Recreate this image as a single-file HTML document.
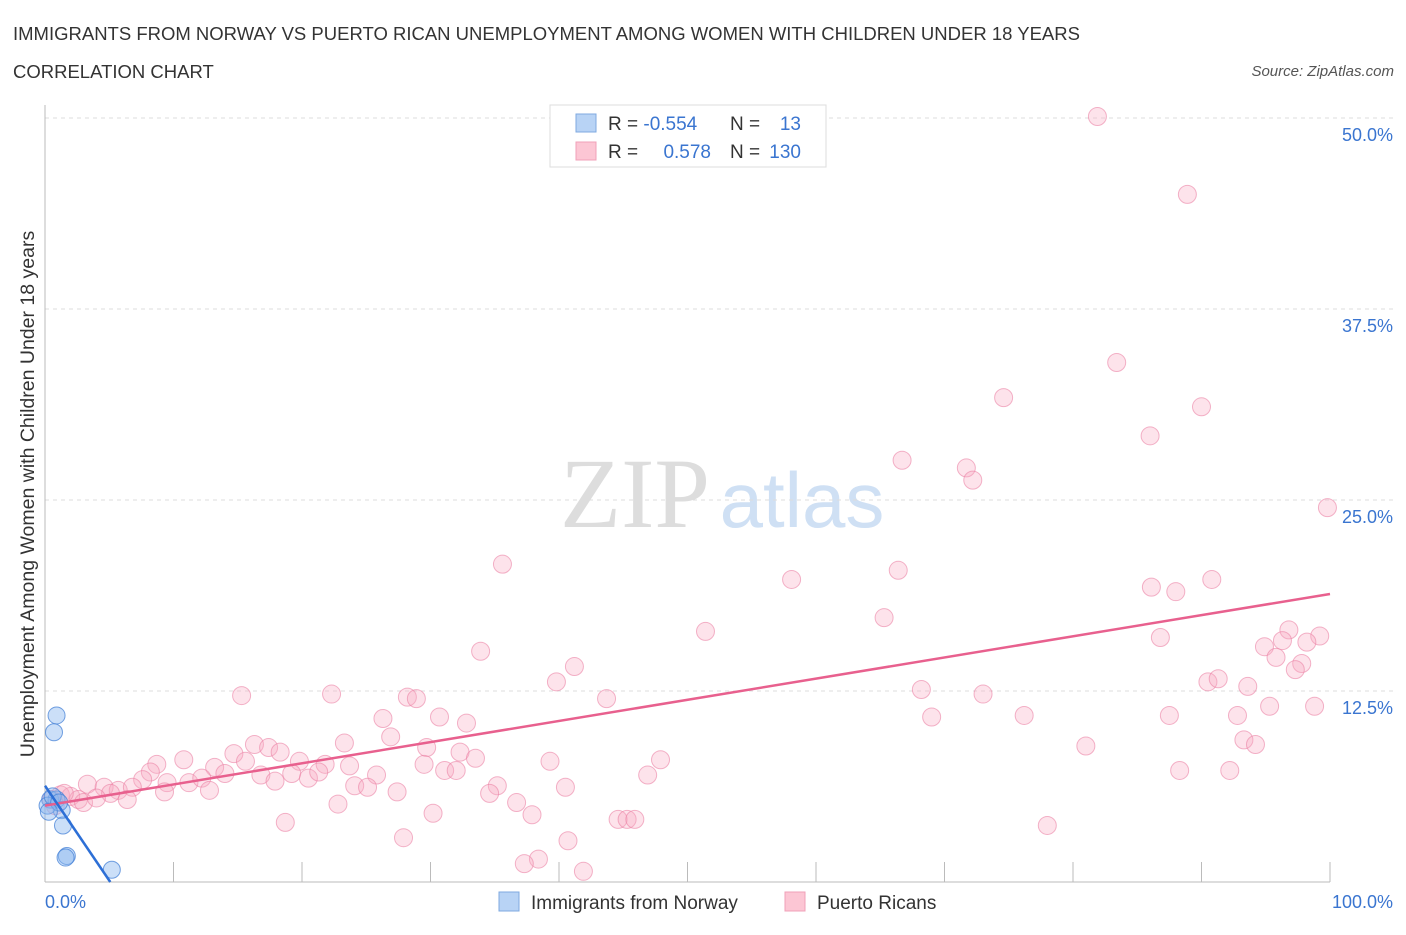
<!DOCTYPE html>
<html><head><meta charset="utf-8"><style>
body{margin:0;background:#fff;font-family:"Liberation Sans",sans-serif;}
svg text{font-family:"Liberation Sans",sans-serif;}
svg text.serif{font-family:"Liberation Serif",serif;}
</style></head><body>
<svg id="c" width="1406" height="930">
<text x="13" y="40" font-size="18.5" fill="#333">IMMIGRANTS FROM NORWAY VS PUERTO RICAN UNEMPLOYMENT AMONG WOMEN WITH CHILDREN UNDER 18 YEARS</text>
<text x="13" y="78" font-size="18.5" fill="#333">CORRELATION CHART</text>
<text x="1394" y="76" font-size="15" fill="#555" text-anchor="end" font-style="italic">Source: ZipAtlas.com</text>
<text class="serif" x="635" y="527" font-size="100" fill="#ddd" text-anchor="middle">ZIP</text>
<text x="802" y="527" font-size="78" fill="#cfe0f4" text-anchor="middle">atlas</text>
<text transform="translate(34,494) rotate(-90)" font-size="19.5" fill="#333" text-anchor="middle">Unemployment Among Women with Children Under 18 years</text>
<g id="grid"></g><g id="pts"></g><g id="lines"></g>
<g>
<rect x="550" y="105" width="276" height="62" fill="#fff" stroke="#ddd"/>
<rect x="576" y="114" width="20" height="18" fill="#b8d3f5" stroke="#7fa9e0"/>
<rect x="576" y="142" width="20" height="18" fill="#fcc6d4" stroke="#f0a0b8"/>
<text x="608" y="130" font-size="19" fill="#333">R = <tspan fill="#3a75d0">-0.554</tspan></text>
<text x="730" y="130" font-size="19" fill="#333">N =</text><text x="801" y="130" font-size="19" fill="#3a75d0" text-anchor="end">13</text>
<text x="608" y="158" font-size="19" fill="#333">R = </text><text x="711" y="158" font-size="19" fill="#3a75d0" text-anchor="end">0.578</text>
<text x="730" y="158" font-size="19" fill="#333">N =</text><text x="801" y="158" font-size="19" fill="#3a75d0" text-anchor="end">130</text>
</g>
<g>
<rect x="499" y="892" width="20" height="19" fill="#b8d3f5" stroke="#7fa9e0"/>
<text x="531" y="909" font-size="19" fill="#333">Immigrants from Norway</text>
<rect x="785" y="892" width="20" height="19" fill="#fcc6d4" stroke="#f0a0b8"/>
<text x="817" y="909" font-size="19" fill="#333">Puerto Ricans</text>
</g>
</svg>
<script>
const yTicks=[12.5,25,37.5,50];
const yTickLabels=["12.5%","25.0%","37.5%","50.0%"];
const xTickCount=10;
const prX=[81.9,88.9,83.4,74.6,90.0,86.0,66.7,71.7,72.2,99.8,35.6,58.1,66.4,90.8,86.1,88.0,65.3,51.4,86.8,96.8,99.2,94.9,96.3,98.2,95.8,97.8,97.3,33.9,41.2,39.8,90.5,91.3,93.6,68.2,73.0,95.3,98.8,15.3,22.3,28.2,28.9,43.7,69.0,76.2,87.5,92.8,26.3,30.7,32.8,26.9,23.3,81.0,93.3,94.2,16.3,17.4,18.3,14.7,29.7,32.3,8.7,10.8,19.8,21.8,23.7,33.5,39.3,47.9,88.3,92.2,13.2,15.6,29.5,31.1,32.0,8.2,7.6,9.5,11.2,12.2,14.0,16.8,19.2,20.5,21.3,25.8,46.9,3.3,4.6,5.7,6.8,12.8,9.3,17.9,24.1,25.1,35.2,40.5,27.4,34.6,6.4,5.1,1.2,2.0,2.6,22.8,36.7,37.9,30.2,44.6,45.3,45.9,18.7,78.0,27.9,40.7,38.4,37.3,41.9,0.5,1.5,3.0,4.0,0.8];
const prY=[50.1,45.0,34.0,31.7,31.1,29.2,27.6,27.1,26.3,24.5,20.8,19.8,20.4,19.8,19.3,19.0,17.3,16.4,16.0,16.5,16.1,15.4,15.8,15.7,14.7,14.3,13.9,15.1,14.1,13.1,13.1,13.3,12.8,12.6,12.3,11.5,11.5,12.2,12.3,12.1,12.0,12.0,10.8,10.9,10.9,10.9,10.7,10.8,10.4,9.5,9.1,8.9,9.3,9.0,9.0,8.8,8.5,8.4,8.8,8.5,7.7,8.0,7.9,7.7,7.6,8.1,7.9,8.0,7.3,7.3,7.5,7.9,7.7,7.3,7.3,7.2,6.7,6.5,6.5,6.8,7.1,7.0,7.1,6.8,7.2,7.0,7.0,6.4,6.2,6.0,6.2,6.0,5.9,6.6,6.3,6.2,6.3,6.2,5.9,5.8,5.4,5.8,5.7,5.6,5.4,5.1,5.2,4.4,4.5,4.1,4.1,4.1,3.9,3.7,2.9,2.7,1.5,1.2,0.7,5.4,5.8,5.2,5.5,5.0];
const noX=[0.9,0.7,0.4,0.9,1.3,1.4,1.7,1.6,5.2,0.2,0.6,1.1,0.3];
const noY=[10.9,9.8,5.4,5.4,4.7,3.7,1.7,1.6,0.8,5.0,5.6,5.2,4.6];
const prTrend=[5.0,18.85];
const noTrend=[6.3,-1.24];
const NS='http://www.w3.org/2000/svg';
const X0=45,X1=1330,Y0=882,Ymax=50;
const xs=v=>X0+v/100*(X1-X0);
const ys=v=>Y0-v/50*(Y0-118);
function mk(t,a,p){const e=document.createElementNS(NS,t);for(const k in a)e.setAttribute(k,a[k]);p.appendChild(e);return e;}
const g=document.getElementById('grid');
yTicks.forEach((t,i)=>{
 const l=mk('line',{x1:X0,x2:1395,y1:ys(t),y2:ys(t),stroke:'#ddd','stroke-dasharray':'4,4'},g);
 
 
 const tx=mk('text',{x:1393,y:ys(t)+23,'font-size':18,fill:'#3a75d0','text-anchor':'end'},g);
 tx.textContent=yTickLabels[i];
 
 
});
const ax=mk('line',{x1:X0,x2:X0,y1:105,y2:Y0,stroke:'#bbb'},g);


const bx=mk('line',{x1:X0,x2:X1,y1:Y0,y2:Y0,stroke:'#bbb'},g);


for(let i=1;i<=xTickCount;i++){
 const tk=mk('line',{x1:xs(i*10),x2:xs(i*10),y1:Y0,y2:Y0-20,stroke:'#bbb'},g);
 
 
}
const xl=mk('text',{x:45,y:908,'font-size':18,fill:'#3a75d0'},g);xl.textContent='0.0%';


const xr=mk('text',{x:1393,y:908,'font-size':18,fill:'#3a75d0','text-anchor':'end'},g);xr.textContent='100.0%';


const p=document.getElementById('pts');
prX.forEach((x,i)=>{
 const c=mk('circle',{cx:xs(x),cy:ys(prY[i]),r:9,fill:'rgba(248,170,195,0.33)',stroke:'rgba(235,130,165,0.6)','stroke-width':1},p);
 
 
});
noX.forEach((x,i)=>{
 const c=mk('circle',{cx:xs(x),cy:ys(noY[i]),r:8.5,fill:'rgba(140,185,240,0.45)',stroke:'rgba(70,130,215,0.75)','stroke-width':1},p);
 
 
});
const L=document.getElementById('lines');
const pl=mk('line',{x1:xs(0),y1:ys(prTrend[0]),x2:xs(100),y2:ys(prTrend[1]),stroke:'#e8608e','stroke-width':2.5},L);


const xe=noTrend[0]/-noTrend[1];
const nl=mk('line',{x1:xs(0),y1:ys(noTrend[0]),x2:xs(xe),y2:ys(0),stroke:'#2d6fd6','stroke-width':2.5},L);


</script>
</body></html>
